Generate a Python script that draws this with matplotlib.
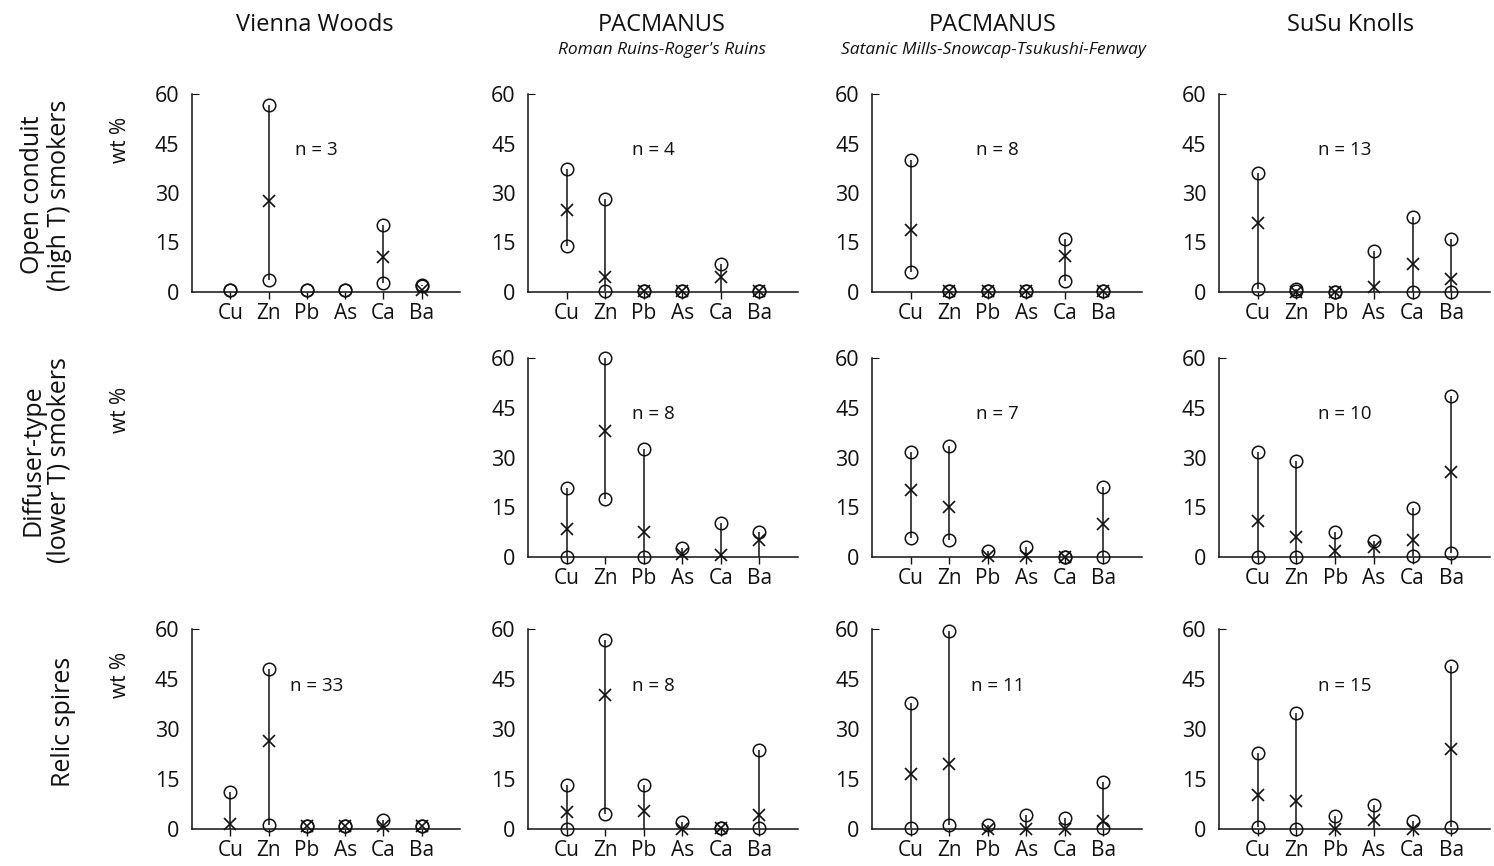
import numpy as np
import matplotlib
matplotlib.use("Agg")
import matplotlib.pyplot as plt

plt.rcParams['font.family'] = ['Open Sans', 'DejaVu Sans']

elements = ["Cu", "Zn", "Pb", "As", "Ca", "Ba"]
y_ticks = [0, 15, 30, 45, 60]

sites = ["Vienna Woods", "PACMANUS", "PACMANUS", "SuSu Knolls"]
site_subtitles = ["", "Roman Ruins-Roger's Ruins",
                  "Satanic Mills-Snowcap-Tsukushi-Fenway", ""]
row_labels = ["Open conduit\n(high T) smokers",
              "Diffuser-type\n(lower T) smokers",
              "Relic spires"]

nan = np.nan

# wt % ranges per element: minimum, maximum and mean (NaN where not plotted)
# --- Open conduit (high T) smokers ---
vw_open_min  = [0.5, 3.7, 0.7, 0.7, 2.7, 1.9]
vw_open_max  = [0.5, 56.8, 0.7, 0.7, 20.3, 2.2]
vw_open_mean = [nan, 27.7, nan, nan, 10.6, 0.5]
vw_open_n = 3

rr_open_min  = [14.0, 0.3, 0.3, 0.3, nan, 0.3]
rr_open_max  = [37.2, 28.1, 0.3, 0.3, 8.6, 0.3]
rr_open_mean = [24.8, 4.4, 0.3, 0.3, 4.4, 0.3]
rr_open_n = 4

sm_open_min  = [6.0, 0.4, 0.4, 0.4, 3.2, 0.4]
sm_open_max  = [39.9, 0.4, 0.4, 0.4, 16.2, 0.4]
sm_open_mean = [18.7, 0.4, 0.4, 0.4, 10.8, 0.4]
sm_open_n = 8

su_open_min  = [0.8, 0.3, 0.0, nan, 0.0, 0.0]
su_open_max  = [36.2, 1.0, 0.0, 12.4, 22.6, 16.1]
su_open_mean = [20.9, 0.1, 0.0, 1.5, 8.5, 4.0]
su_open_n = 13

# --- Diffuser-type (lower T) smokers ---
rr_diff_min  = [0.0, 17.4, 0.0, nan, nan, nan]
rr_diff_max  = [20.9, 60.0, 32.7, 2.7, 10.4, 7.5]
rr_diff_mean = [8.3, 38.0, 7.5, 1.0, 0.7, 5.0]
rr_diff_n = 8

sm_diff_min  = [5.7, 5.2, nan, nan, 0.0, 0.0]
sm_diff_max  = [31.7, 33.4, 1.7, 3.0, 0.0, 21.2]
sm_diff_mean = [20.1, 15.1, 0.2, 0.2, 0.0, 9.9]
sm_diff_n = 7

su_diff_min  = [0.0, 0.0, nan, nan, 0.2, 1.2]
su_diff_max  = [31.7, 28.8, 7.6, 4.9, 14.9, 48.4]
su_diff_mean = [10.8, 5.9, 1.7, 3.0, 5.2, 25.5]
su_diff_n = 10

# --- Relic spires ---
vw_relic_min  = [nan, 1.3, 1.0, 1.0, nan, 1.0]
vw_relic_max  = [11.1, 48.1, 1.0, 1.0, 2.8, 1.0]
vw_relic_mean = [1.5, 26.5, 1.0, 1.0, 1.0, 1.0]
vw_relic_n = 33

rr_relic_min  = [0.0, 4.5, nan, nan, 0.3, 0.3]
rr_relic_max  = [13.3, 56.7, 13.3, 2.0, 0.3, 23.7]
rr_relic_mean = [5.2, 40.3, 5.5, 0.0, 0.3, 4.3]
rr_relic_n = 8

sm_relic_min  = [0.2, 1.2, nan, nan, nan, 0.2]
sm_relic_max  = [37.7, 59.3, 1.2, 4.3, 3.3, 14.2]
sm_relic_mean = [16.6, 19.4, 0.0, 0.0, 0.0, 2.5]
sm_relic_n = 11

su_relic_min  = [0.5, 0.0, nan, nan, nan, 0.5]
su_relic_max  = [22.7, 34.9, 3.8, 7.3, 2.3, 48.9]
su_relic_mean = [10.2, 8.3, 0.0, 2.7, 0.0, 24.1]
su_relic_n = 15

panels = {
    (0, 0): (vw_open_min, vw_open_max, vw_open_mean, vw_open_n),
    (0, 1): (rr_open_min, rr_open_max, rr_open_mean, rr_open_n),
    (0, 2): (sm_open_min, sm_open_max, sm_open_mean, sm_open_n),
    (0, 3): (su_open_min, su_open_max, su_open_mean, su_open_n),
    (1, 1): (rr_diff_min, rr_diff_max, rr_diff_mean, rr_diff_n),
    (1, 2): (sm_diff_min, sm_diff_max, sm_diff_mean, sm_diff_n),
    (1, 3): (su_diff_min, su_diff_max, su_diff_mean, su_diff_n),
    (2, 0): (vw_relic_min, vw_relic_max, vw_relic_mean, vw_relic_n),
    (2, 1): (rr_relic_min, rr_relic_max, rr_relic_mean, rr_relic_n),
    (2, 2): (sm_relic_min, sm_relic_max, sm_relic_mean, sm_relic_n),
    (2, 3): (su_relic_min, su_relic_max, su_relic_mean, su_relic_n),
}

W, H = 1494, 866
fig = plt.figure(figsize=(W / 100, H / 100), dpi=100)

# pixel layout of the grid: left/right of each column, top(60)/bottom(0) of each row
col_px = [(192, 460), (528, 798), (872, 1142), (1219, 1490)]
row_px = [(94, 292), (358, 557), (629, 829)]

ink = "#111111"
x = np.arange(1, len(elements) + 1)

for (r, c), (vmin, vmax, vmean, n) in panels.items():
    x0, x1 = col_px[c]
    yt, yb = row_px[r]
    ax = fig.add_axes([x0 / W, 1 - yb / H, (x1 - x0) / W, (yb - yt) / H])
    vmin = np.asarray(vmin, float)
    vmax = np.asarray(vmax, float)
    vmean = np.asarray(vmean, float)
    lo = np.where(np.isnan(vmin), 0.0, vmin)
    ax.vlines(x, lo, vmax, color=ink, lw=1.1, zorder=2)
    ax.plot(x, vmin, ls="none", marker="o", ms=9, mfc="none", mec=ink,
            mew=1.1, clip_on=False, zorder=3)
    ax.plot(x, vmax, ls="none", marker="o", ms=9, mfc="none", mec=ink,
            mew=1.1, clip_on=False, zorder=3)
    ax.plot(x, vmean, ls="none", marker="x", ms=8, mec=ink, mew=1.2,
            clip_on=False, zorder=4)
    ax.text(3.25, 43, f"n = {n}", ha="center", va="center", fontsize=13.5,
            color=ink)

    ax.set_xlim(0, 7)
    ax.set_ylim(0, 60)
    ax.set_xticks(x)
    ax.set_xticklabels(elements)
    ax.set_yticks(y_ticks)
    for s in ("top", "right"):
        ax.spines[s].set_visible(False)
    for s in ("left", "bottom"):
        ax.spines[s].set_linewidth(1.1)
        ax.spines[s].set_color(ink)
    ax.tick_params(axis="x", direction="out", length=5, width=1.0,
                   labelsize=15, pad=3, colors=ink)
    ax.tick_params(axis="y", direction="in", length=0, labelsize=15.5,
                   pad=9, colors=ink)
    top_tick = ax.yaxis.get_major_ticks()[-1]
    top_tick.tick1line.set_markersize(5)
    ax.patch.set_alpha(0)

# column headers
header_x = [315, 662, 993, 1351]
for hx, name, sub in zip(header_x, sites, site_subtitles):
    fig.text(hx / W, 1 - 25 / H, name, ha="center", va="center",
             fontsize=17, color=ink)
    if sub:
        fig.text(hx / W, 1 - 50 / H, sub, ha="center", va="center",
                 fontsize=12.5, style="italic", color=ink)

# row labels and y-axis units
row_label_x = [46, 46, 64]
row_label_y = [195, 460, 722]
wt_y = [140, 410, 675]
for lx, ry, wy, lab in zip(row_label_x, row_label_y, wt_y, row_labels):
    fig.text(lx / W, 1 - ry / H, lab, rotation=90, ha="center", va="center",
             fontsize=18, color=ink, linespacing=1.1)
    fig.text(120 / W, 1 - wy / H, "wt %", rotation=90, ha="center",
             va="center", fontsize=15, color=ink)

fig.savefig("out.png", dpi=100, facecolor="white")
